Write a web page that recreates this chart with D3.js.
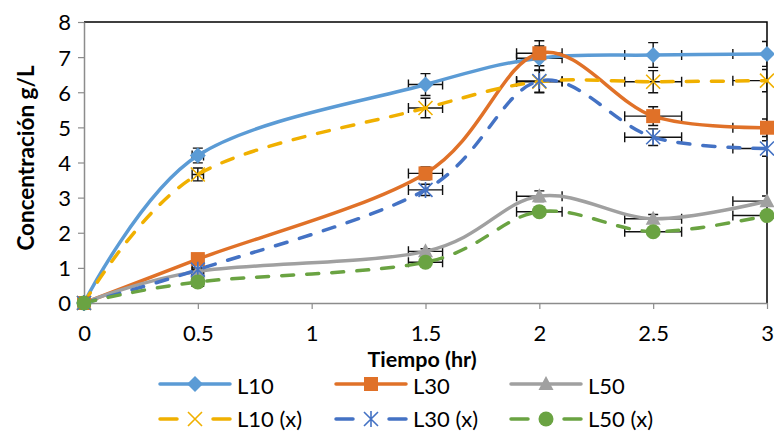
<!DOCTYPE html>
<html>
<head>
<meta charset="utf-8">
<script src="https://cdn.jsdelivr.net/npm/d3@7"></script>
<style>
  html, body { margin: 0; padding: 0; background: #fff; }
  svg { display: block; font-family: Lato, "Liberation Sans", sans-serif; }
</style>
</head>
<body>
<svg id="chart" width="774" height="432"></svg>
<script>
// Sampling times (hr)
const times = [0, 0.5, 1.5, 2, 2.5, 3];

// Concentration (g/L) per series
const L10  = [0, 4.20, 6.22, 6.97, 7.06, 7.09];
const L30  = [0, 1.25, 3.69, 7.11, 5.32, 4.99];
const L50  = [0, 0.90, 1.47, 3.04, 2.40, 2.90];
const L10x = [0, 3.66, 5.55, 6.30, 6.30, 6.33];
const L30x = [0, 0.95, 3.22, 6.32, 4.72, 4.40];
const L50x = [0, 0.60, 1.16, 2.60, 2.03, 2.49];

const seriesNames = ["L10", "L30", "L50", "L10 (x)", "L30 (x)", "L50 (x)"];
const xTicks = [0, 0.5, 1, 1.5, 2, 2.5, 3];
const yTicks = [0, 1, 2, 3, 4, 5, 6, 7, 8];
const errorPct = 0.05;   // percentage error bars on both axes

const styles = [
  { color: "#5B9BD5", dash: null,    marker: "diamond"  },
  { color: "#E07128", dash: null,    marker: "square"   },
  { color: "#A0A0A0", dash: null,    marker: "triangle" },
  { color: "#F0B000", dash: "12,13", marker: "x"        },
  { color: "#4472C4", dash: "12,13", marker: "asterisk" },
  { color: "#6AA342", dash: "12,13", marker: "circle"   }
];

const seriesValues = [L10, L30, L50, L10x, L30x, L50x];
const series = seriesNames.map((name, i) => ({
  name,
  style: styles[i],
  points: times.map((t, j) => ({ x: t, y: seriesValues[i][j] }))
}));

const svg = d3.select("#chart");
const W = 774, H = 432;
const plot = { left: 84, right: 767, top: 22, bottom: 303 };

const x = d3.scaleLinear().domain([0, 3]).range([plot.left, plot.right]);
const y = d3.scaleLinear().domain([0, 8]).range([plot.bottom, plot.top]);

svg.append("rect").attr("width", W).attr("height", H).attr("fill", "#fff");

// clip for error bars
svg.append("defs").append("clipPath").attr("id", "plotClip")
  .append("rect")
  .attr("x", plot.left).attr("y", plot.top - 20)
  .attr("width", plot.right - plot.left).attr("height", plot.bottom - plot.top + 20);

// Plot frame: top and right edges
svg.append("path")
  .attr("d", `M${plot.left},${plot.top}H${plot.right}V${plot.bottom}`)
  .attr("fill", "none").attr("stroke", "#000").attr("stroke-width", 1.5);

// Axes
const xAxis = svg.append("g")
  .attr("transform", `translate(0,${plot.bottom})`)
  .call(d3.axisBottom(x).tickValues(xTicks).tickSize(6).tickSizeOuter(0)
    .tickFormat(d => String(d)));
const yAxis = svg.append("g")
  .attr("transform", `translate(${plot.left},0)`)
  .call(d3.axisLeft(y).tickValues(yTicks).tickSize(6).tickSizeOuter(0));

[xAxis, yAxis].forEach(g => {
  g.select(".domain").attr("stroke", "#8c8c8c").attr("stroke-width", 1.5);
  g.selectAll(".tick line").attr("stroke", "#8c8c8c").attr("stroke-width", 1.2);
  g.selectAll(".tick text").attr("fill", "#000").attr("font-size", 22)
    .attr("font-family", "Lato, sans-serif");
});
xAxis.selectAll(".tick text").attr("dy", null).attr("y", 37.5);
yAxis.selectAll(".tick text").attr("x", -13).attr("dy", "0.36em");

// Axis titles
svg.append("text")
  .attr("x", 422).attr("y", 366.6)
  .attr("text-anchor", "middle")
  .attr("font-size", 21.5).attr("font-weight", "bold")
  .text("Tiempo (hr)");
svg.append("text")
  .attr("transform", "translate(34,158) rotate(-90)")
  .attr("text-anchor", "middle")
  .attr("font-size", 22.5).attr("font-weight", "bold")
  .text("Concentración g/L");

// Error bars (±5% in x and y)
const errG = svg.append("g").attr("clip-path", "url(#plotClip)")
  .attr("stroke", "#111").attr("stroke-width", 1.4).attr("fill", "none");
const cap = 5;
series.forEach(s => {
  s.points.forEach(p => {
    const cx = x(p.x), cy = y(p.y);
    const ex = x(p.x * (1 + errorPct)) - cx;
    const ey = cy - y(p.y * (1 + errorPct));
    if (ex > 0) {
      errG.append("path").attr("d",
        `M${cx - ex},${cy}H${cx + ex}` +
        `M${cx - ex},${cy - cap}V${cy + cap}` +
        `M${cx + ex},${cy - cap}V${cy + cap}`);
    }
    if (ey > 0) {
      errG.append("path").attr("d",
        `M${cx},${cy - ey}V${cy + ey}` +
        `M${cx - cap},${cy - ey}H${cx + cap}` +
        `M${cx - cap},${cy + ey}H${cx + cap}`);
    }
  });
});

// Smoothed lines
const line = d3.line()
  .x(d => x(d.x)).y(d => y(d.y))
  .curve(d3.curveCardinal.tension(0));

function strokeLine(g, d, st) {
  g.append("path")
    .attr("d", d)
    .attr("fill", "none")
    .attr("stroke", st.color)
    .attr("stroke-width", 3.5)
    .attr("stroke-linecap", "round")
    .attr("stroke-dasharray", st.dash);
}

// Marker drawing
function drawMarker(g, type, cx, cy, color) {
  switch (type) {
    case "diamond":
      g.append("path").attr("d", `M${cx},${cy - 8}L${cx + 8},${cy}L${cx},${cy + 8}L${cx - 8},${cy}Z`)
        .attr("fill", color);
      break;
    case "square":
      g.append("rect").attr("x", cx - 7).attr("y", cy - 7).attr("width", 14).attr("height", 14)
        .attr("fill", color);
      break;
    case "triangle":
      g.append("path").attr("d", `M${cx},${cy - 8}L${cx + 7.5},${cy + 6}L${cx - 7.5},${cy + 6}Z`)
        .attr("fill", color);
      break;
    case "circle":
      g.append("circle").attr("cx", cx).attr("cy", cy).attr("r", 7.5).attr("fill", color);
      break;
    case "x":
      g.append("path").attr("d", `M${cx - 7},${cy - 7}L${cx + 7},${cy + 7}M${cx - 7},${cy + 7}L${cx + 7},${cy - 7}`)
        .attr("stroke", color).attr("stroke-width", 1.6).attr("fill", "none");
      break;
    case "asterisk":
      g.append("path").attr("d",
        `M${cx - 7},${cy - 7}L${cx + 7},${cy + 7}M${cx - 7},${cy + 7}L${cx + 7},${cy - 7}M${cx},${cy - 8}V${cy + 8}`)
        .attr("stroke", color).attr("stroke-width", 1.6).attr("fill", "none");
      break;
  }
}

const linesG = svg.append("g");
const markG = svg.append("g");
series.forEach(s => {
  strokeLine(linesG, line(s.points), s.style);
  s.points.forEach(p => drawMarker(markG, s.style.marker, x(p.x), y(p.y), s.style.color));
});

// Legend: 3 columns x 2 rows
const legendCols = [160, 336, 511];
const legendRows = [384, 419];
const legG = svg.append("g");
series.forEach((s, i) => {
  const lx = legendCols[i % 3], ly = legendRows[Math.floor(i / 3)];
  const len = 70, mid = lx + len / 2;
  if (s.style.dash) {
    strokeLine(legG, `M${lx},${ly}H${lx + 17}`, { color: s.style.color, dash: null });
    strokeLine(legG, `M${lx + len - 17},${ly}H${lx + len}`, { color: s.style.color, dash: null });
  } else {
    strokeLine(legG, `M${lx},${ly}H${lx + len}`, s.style);
  }
  drawMarker(legG, s.style.marker, mid, ly, s.style.color);
  legG.append("text")
    .attr("x", lx + len + 7).attr("y", ly + (i < 3 ? 9.5 : 7.5))
    .attr("font-size", 22)
    .text(s.name);
});
</script>
</body>
</html>
